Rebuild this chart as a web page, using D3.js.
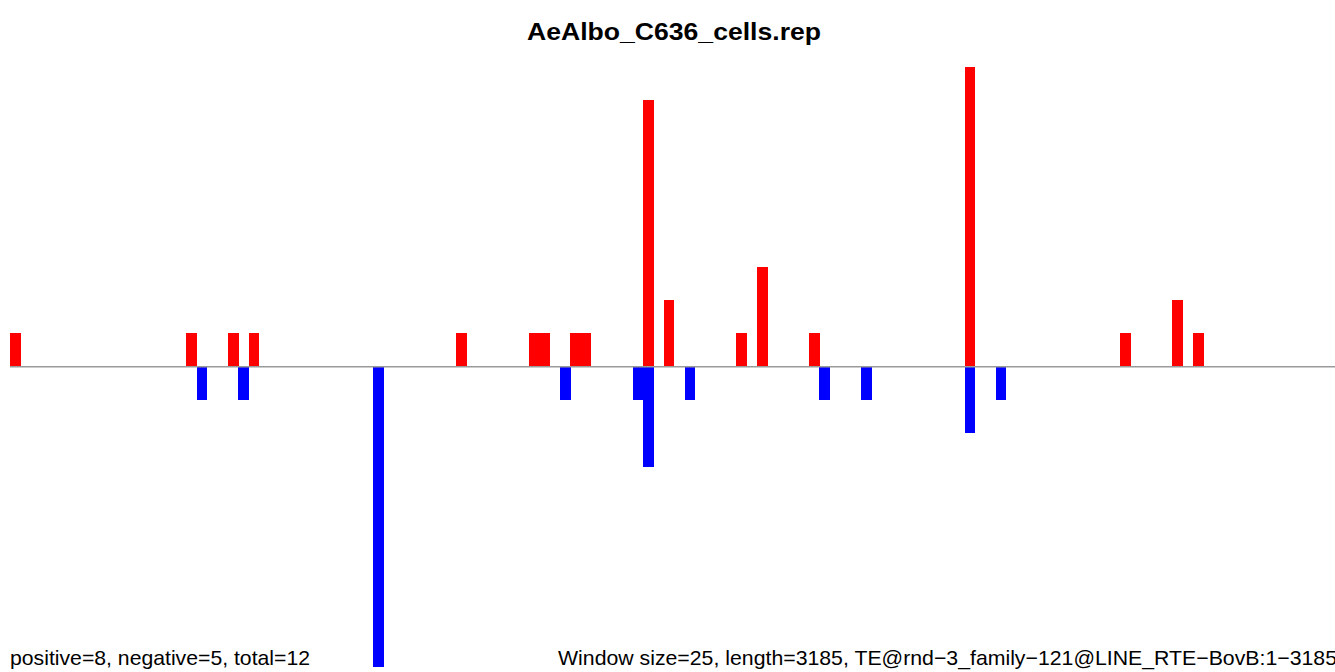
<!DOCTYPE html>
<html>
<head>
<meta charset="utf-8">
<script src="https://cdn.jsdelivr.net/npm/d3@7"></script>
<style>
  html, body { margin: 0; padding: 0; background: #fff; }
  svg { display: block; }
  text { font-family: "Liberation Sans", Arial, Helvetica, sans-serif; }
</style>
</head>
<body>
<svg id="chart" width="1335" height="672"></svg>
<script>
// ---- data ----
const title = "AeAlbo_C636_cells.rep";
const nWindows = 128; // length 3185 / window 25
const posIndex = [0, 17, 21, 23, 43, 50, 51, 54, 55, 61, 63, 70, 72, 77, 92, 107, 112, 114];
const posValue = [1, 1, 1, 1, 1, 1, 1, 1, 1, 8, 2, 1, 3, 1, 9, 1, 2, 1];
const negIndex = [18, 22, 35, 53, 60, 61, 65, 78, 82, 92, 95];
const negValue = [-1, -1, -9, -1, -1, -3, -1, -1, -1, -2, -1];
const leftNote = "positive=8, negative=5, total=12";
const rightNote = "Window size=25, length=3185, TE@rnd\u22123_family\u2212121@LINE_RTE\u2212BovB:1\u22123185";

// ---- layout ----
const svg = d3.select("#chart");
const W = 1335;
const x = d3.scaleLinear().domain([0, nWindows]).range([10, 10 + nWindows * 10.377]);
const y = d3.scaleLinear().domain([-9, 9]).range([666.6, 66.9]);
const bw = x(1) - x(0);

const pos = posIndex.map((d, i) => ({ i: d, v: posValue[i] }));
const neg = negIndex.map((d, i) => ({ i: d, v: negValue[i] }));

svg.append("g").attr("shape-rendering", "crispEdges")
  .selectAll("rect").data(pos).join("rect")
  .attr("x", d => x(d.i))
  .attr("width", bw + 0.3)
  .attr("y", d => y(d.v))
  .attr("height", d => y(0) - y(d.v))
  .attr("fill", "#ff0000");

svg.append("g").attr("shape-rendering", "crispEdges")
  .selectAll("rect").data(neg).join("rect")
  .attr("x", d => x(d.i))
  .attr("width", bw + 0.3)
  .attr("y", y(0))
  .attr("height", d => y(d.v) - y(0))
  .attr("fill", "#0000ff");

svg.append("line")
  .attr("x1", x(0)).attr("x2", W)
  .attr("y1", y(0)).attr("y2", y(0))
  .attr("stroke", "#9a9a9a").attr("stroke-width", 1.5);

svg.append("text")
  .attr("x", 674).attr("y", 40)
  .attr("text-anchor", "middle")
  .attr("font-size", 24.5).attr("font-weight", "bold")
  .attr("textLength", 294).attr("lengthAdjust", "spacingAndGlyphs")
  .attr("fill", "#000")
  .text(title);

svg.append("text")
  .attr("x", 10).attr("y", 664.5)
  .attr("font-size", 21).attr("fill", "#000")
  .attr("textLength", 300).attr("lengthAdjust", "spacingAndGlyphs")
  .text(leftNote);

svg.append("text")
  .attr("x", 558).attr("y", 664.5)
  .attr("font-size", 21).attr("fill", "#000")
  .attr("textLength", 779).attr("lengthAdjust", "spacingAndGlyphs")
  .text(rightNote);
</script>
</body>
</html>
